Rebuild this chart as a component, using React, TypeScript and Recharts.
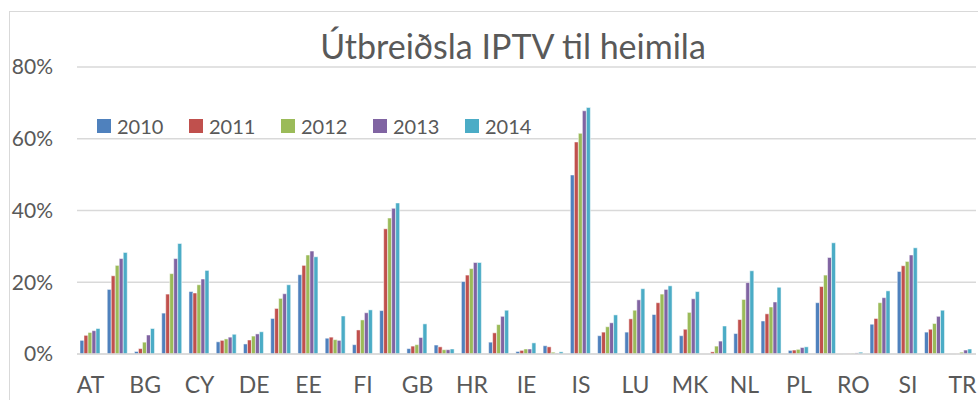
import React from 'react';
import { BarChart, Bar, XAxis, YAxis, CartesianGrid } from 'recharts';

const countries = ['AT','BE','BG','CH','CY','CZ','DE','DK','EE','ES','FI','FR','GB','GR','HR','HU','IE','IT','IS','LT','LU','LV','MK','MT','NL','NO','PL','PT','RO','SE','SI','SK','TR'];

const y2010 = [3.8,18.0,0.7,11.4,17.4,3.4,2.8,9.9,22.1,4.4,2.6,12.1,1.5,2.5,20.2,3.3,0.7,2.3,49.9,5.1,6.1,11.0,5.1,0,5.7,9.2,1.0,14.3,0.1,8.3,23.0,6.1,0];
const y2011 = [5.2,21.8,1.5,16.7,17.0,3.8,3.9,12.7,24.7,4.7,6.7,34.9,2.2,2.0,22.0,5.9,1.0,2.0,59.1,6.1,9.8,14.3,6.9,0.6,9.6,11.2,1.1,18.8,0.1,9.9,24.6,6.9,0.05];
const y2012 = [6.0,24.7,3.3,22.4,19.3,4.2,5.0,15.5,27.6,4.0,9.5,37.9,2.6,1.2,23.8,8.2,1.4,0.5,61.5,7.6,12.2,16.7,11.6,2.2,15.2,13.1,1.3,22.0,0.2,14.3,25.8,8.5,0.5];
const y2013 = [6.5,26.6,5.3,26.6,20.9,4.7,5.6,16.8,28.7,3.8,11.5,40.6,4.6,1.2,25.5,10.5,1.4,0.2,67.8,8.7,15.1,18.0,15.4,3.6,19.9,14.5,1.8,26.9,0.3,15.7,27.6,10.5,1.1];
const y2014 = [7.1,28.3,7.1,30.8,23.3,5.5,6.2,19.3,27.1,10.6,12.3,42.1,8.4,1.4,25.5,12.2,3.1,0.6,68.7,10.9,18.2,19.0,17.4,7.8,23.2,18.6,2.0,31.0,0.5,17.6,29.6,12.2,1.4];

const years = ['2010','2011','2012','2013','2014'];
const colors = ['#4F81BD','#C0504D','#9BBB59','#8064A2','#4BACC6'];
const yTicks = [0, 20, 40, 60, 80];
const title = 'Útbreiðsla IPTV til heimila';

const seriesValues = [y2010, y2011, y2012, y2013, y2014];
const data = countries.map((c, i) => {
  const row: any = { name: c };
  years.forEach((y, k) => { row[y] = seriesValues[k][i]; });
  return row;
});

const FONT = 'Lato, "Open Sans", sans-serif';
const TEXT = '#595959';

export default function App() {
  return (
    <div style={{ position: 'absolute', left: 0, top: 0, width: 978, height: 400, background: '#fff', overflow: 'hidden' }}>
      <div style={{ position: 'absolute', left: 9, top: 11, width: 980, height: 400, borderTop: '1.5px solid #d9d9d9', borderLeft: '1.5px solid #d9d9d9' }} />
      <div style={{ position: 'absolute', left: 0, top: 25, width: 1026, textAlign: 'center', fontFamily: FONT, fontSize: 34, color: TEXT, zIndex: 2, whiteSpace: 'nowrap' }}>
        {title}
      </div>
      <div style={{ position: 'absolute', left: 97, top: 112, display: 'flex', fontFamily: FONT, fontSize: 20, color: TEXT, zIndex: 2 }}>
        {years.map((y, k) => (
          <div key={y} style={{ display: 'flex', alignItems: 'center', width: 92, height: 28 }}>
            <span style={{ display: 'inline-block', width: 14, height: 14, background: colors[k], marginRight: 6 }} />
            <span>{y}</span>
          </div>
        ))}
      </div>
      <div style={{ position: 'absolute', left: 0, top: 0 }}>
        <BarChart width={978} height={400} data={data} margin={{ top: 67, right: 2, left: 0, bottom: 0 }} barCategoryGap="11%" barGap={0}>
          <CartesianGrid vertical={false} stroke="#d9d9d9" strokeWidth={1.5} />
          <XAxis dataKey="name" interval={1} tickLine={false} axisLine={{ stroke: '#d9d9d9', strokeWidth: 1.5 }} tickSize={0} tickMargin={23} height={46} tick={{ fill: TEXT, fontSize: 23, fontFamily: FONT }} />
          <YAxis domain={[0, 80]} ticks={yTicks} tickFormatter={(v: number) => `${v}%`} axisLine={false} tickLine={false} tickSize={0} tickMargin={24} width={77} tick={{ fill: TEXT, fontSize: 21, fontFamily: FONT }} />
          {years.map((y, k) => (
            <Bar key={y} dataKey={y} fill={colors[k]} stroke="#fff" strokeWidth={0.5} isAnimationActive={false} />
          ))}
        </BarChart>
      </div>
    </div>
  );
}
